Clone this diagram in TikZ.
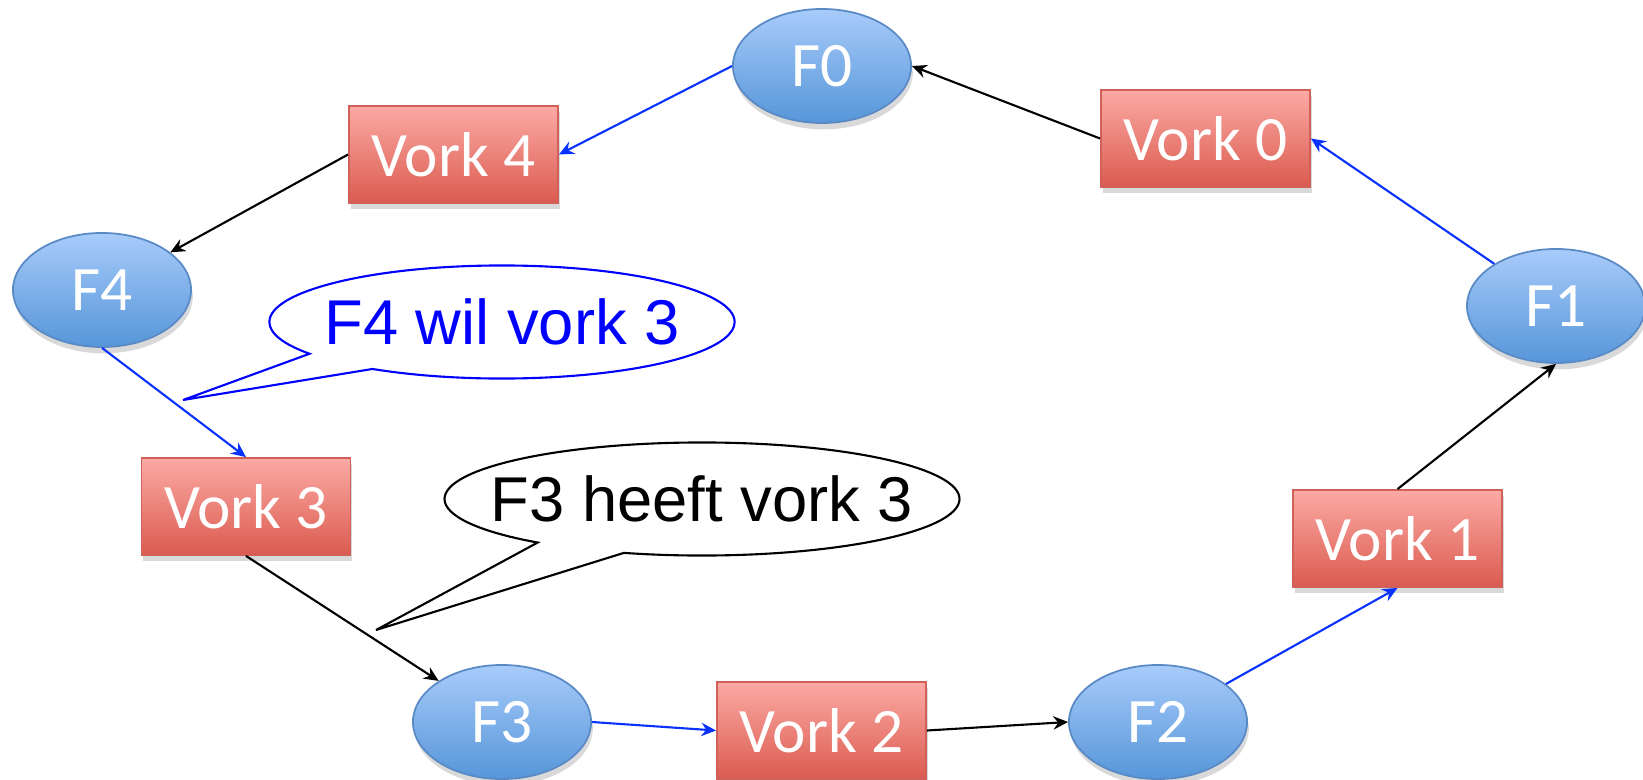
\documentclass[tikz,border=0pt]{standalone}
\usepackage{fontspec}
\setmainfont{Carlito}
\newfontfamily\praatfont{Liberation Sans}
\usepackage{tikz}
\usetikzlibrary{positioning}
\usetikzlibrary{arrows.meta}
\usetikzlibrary{shapes.geometric}
\usetikzlibrary{shapes.callouts}
\usetikzlibrary{shadows}

\definecolor{filtop}{HTML}{A8CBFA}
\definecolor{filbot}{HTML}{5696D9}
\definecolor{filrand}{HTML}{5A8AC6}
\definecolor{vorktop}{HTML}{FBAAA4}
\definecolor{vorkbot}{HTML}{DB5B50}
\definecolor{vorkrand}{HTML}{D0605A}
\definecolor{pijlblauw}{HTML}{0A32FF}

\tikzset{
    schaduw/.style={drop shadow={shadow xshift=0.5pt, shadow yshift=-1.8pt, opacity=0.3}},
    fil/.style={ellipse, draw=filrand, line width=0.5pt, top color=filtop, bottom color=filbot,
        minimum width=1.78cm, minimum height=1.14cm, inner sep=0pt, text=white,
        font=\fontsize{18}{20}\selectfont, schaduw},
    vork/.style={rectangle, draw=vorkrand, line width=0.5pt, top color=vorktop, bottom color=vorkbot,
        minimum width=2.09cm, minimum height=0.97cm, inner sep=0pt, text=white,
        font=\fontsize{18}{20}\selectfont, schaduw},
    pijl/.style={-{Stealth[length=4.2pt, width=3.8pt, inset=1.4pt]}, line width=0.6pt},
    wil/.style={pijl, draw=pijlblauw},
    heeft/.style={pijl, draw=black},
    praat/.style={ellipse callout, draw, fill=white, line width=0.6pt, callout pointer arc=22,
        minimum height=1.13cm, inner ysep=0pt, font=\praatfont\fontsize{18}{20}\selectfont},
}

\begin{document}
\begin{tikzpicture}[x=0.01cm, y=-0.01cm]
    \useasboundingbox (0,0) rectangle (1643,779);

    % filosofen
    \node[fil] (f0) at (822,66) {F0};
    \node[fil] (f1) at (1556,306) {F1};
    \node[fil] (f2) at (1158,722) {F2};
    \node[fil] (f3) at (502,722) {F3};
    \node[fil] (f4) at (102,290) {F4};

    % vorken
    \node[vork] (v0) at (1205.5,138.5) {Vork 0};
    \node[vork] (v1) at (1397.5,538.5) {Vork 1};
    \node[vork] (v2) at (821.5,730.5) {Vork 2};
    \node[vork] (v3) at (246,506.5) {Vork 3};
    \node[vork] (v4) at (453.5,154.5) {Vork 4};

    \draw[wil] (f0.west) -- (v4.east);
    \draw[heeft] (v0.west) -- (f0.east);
    \draw[heeft] (v4.west) -- (f4);
    \draw[wil] (f4.south) -- (v3.north);
    \draw[heeft] (v3.south) -- (f3);
    \draw[wil] (f3.east) -- (v2.west);
    \draw[heeft] (v2.east) -- (f2.west);
    \draw[wil] (f2) -- (v1.south);
    \draw[heeft] (v1.north) -- (f1.south);
    \draw[wil] (f1) -- (v0.east);

    % tekstballonnen
    \coordinate (p4) at (183,400);
    \coordinate (p3) at (376,630);
    \node[praat, draw=blue, text=blue, inner xsep=-0.135cm, minimum width=4.65cm,
        callout absolute pointer={(p4)}] (c4) at (502,322) {F4 wil vork 3};
    \node[praat, inner xsep=-0.29cm, minimum width=5.14cm,
        callout absolute pointer={(p3)}] (c3) at (702,499) {F3 heeft vork 3};

\end{tikzpicture}
\end{document}
